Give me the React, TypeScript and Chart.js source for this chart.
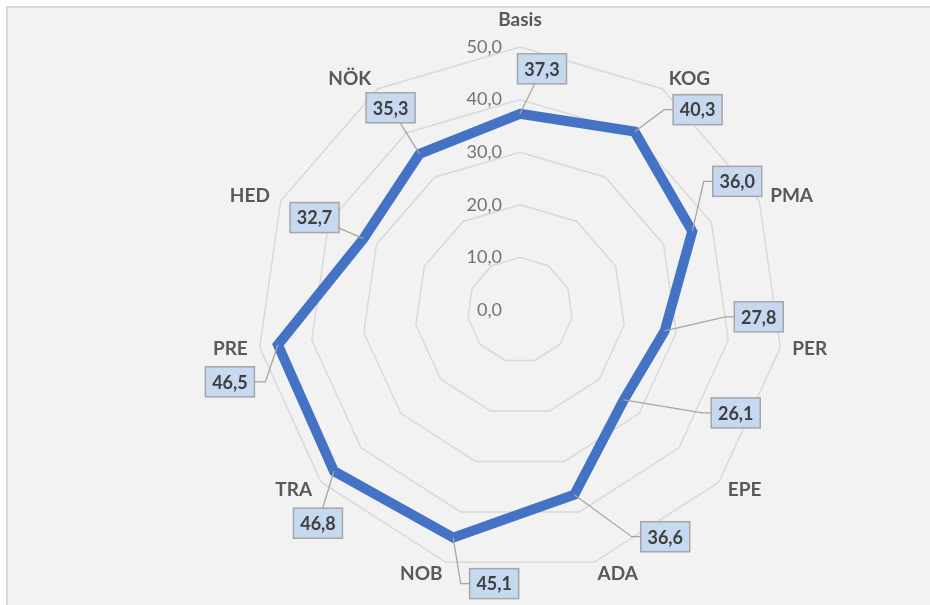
import React, { useEffect, useRef } from "react";
import { Chart, registerables } from "chart.js";

Chart.register(...registerables);

const categories = ["Basis", "KOG", "PMA", "PER", "EPE", "ADA", "NOB", "TRA", "PRE", "HED", "NÖK"];
const values = [37.3, 40.3, 36.0, 27.8, 26.1, 36.6, 45.1, 46.8, 46.5, 32.7, 35.3];
const tickValues = [0, 10, 20, 30, 40, 50];

// callout placement (box centre relative to its point) and leader style
const calloutOffsets = [
  [22, -45], [63, -22], [45, -50], [94, -14], [112, 13], [91, 42],
  [41, 46], [-16, 52], [-48, 37], [-49, -21], [-29, -46],
];
const leaderTypes = ["C", "L", "L", "L", "L", "L", "L", "C", "R", "C", "C"];

const fmt = (v: number) => v.toFixed(1).replace(".", ",");
const FONT = "Lato, 'Open Sans', sans-serif";

const radarExtras = {
  id: "radarExtras",
  beforeDatasetsDraw(chart: any) {
    const scale = chart.scales.r;
    const ctx = chart.ctx;
    ctx.save();
    // tick labels
    ctx.font = `18px ${FONT}`;
    ctx.fillStyle = "#737373";
    ctx.textAlign = "right";
    ctx.textBaseline = "middle";
    tickValues.forEach((v) => {
      const d = scale.getDistanceFromCenterForValue(v);
      ctx.fillText(fmt(v), scale.xCenter - 18, scale.yCenter - d);
    });
    // point labels
    ctx.font = `bold 19px ${FONT}`;
    ctx.fillStyle = "#595959";
    (chart.data.labels as string[]).forEach((lab, i) => {
      const extra = i === 0 ? 15 : 0;
      const p = scale.getPointPosition(i, scale.drawingArea + 12 + extra);
      const dx = p.x - scale.xCenter;
      ctx.textAlign = dx > 1 ? "left" : dx < -1 ? "right" : "center";
      ctx.fillText(lab, p.x, p.y);
    });
    ctx.restore();
  },
  afterDatasetsDraw(chart: any) {
    const ctx = chart.ctx;
    const meta = chart.getDatasetMeta(0);
    const w = 49;
    const h = 30;
    ctx.save();
    ctx.strokeStyle = "#a6a6a6";
    ctx.lineWidth = 1.3;
    meta.data.forEach((pt: any, i: number) => {
      const [ox, oy] = calloutOffsets[i];
      const cx = pt.x + ox;
      const cy = pt.y + oy;
      const l = cx - w / 2;
      ctx.beginPath();
      ctx.moveTo(pt.x, pt.y);
      if (leaderTypes[i] === "L") {
        ctx.lineTo(l - 9, cy);
        ctx.lineTo(l, cy);
      } else if (leaderTypes[i] === "R") {
        ctx.lineTo(l + w + 11, cy);
        ctx.lineTo(l + w, cy);
      } else {
        ctx.lineTo(cx, cy);
      }
      ctx.stroke();
    });
    meta.data.forEach((pt: any, i: number) => {
      const [ox, oy] = calloutOffsets[i];
      const cx = pt.x + ox;
      const cy = pt.y + oy;
      const l = cx - w / 2;
      const t = cy - h / 2;
      ctx.fillStyle = "#c6d9f1";
      ctx.fillRect(l, t, w, h);
      ctx.lineWidth = 1.5;
      ctx.strokeStyle = "#a6a6a6";
      ctx.strokeRect(l, t, w, h);
      ctx.fillStyle = "#404040";
      ctx.font = `bold 18px ${FONT}`;
      ctx.textAlign = "center";
      ctx.textBaseline = "middle";
      ctx.fillText(fmt(values[i]), cx, cy + 1);
    });
    ctx.restore();
  },
};

export default function App() {
  const ref = useRef<HTMLCanvasElement>(null);
  useEffect(() => {
    const chart = new Chart(ref.current as HTMLCanvasElement, {
      type: "radar",
      data: {
        labels: categories,
        datasets: [
          {
            data: values,
            borderColor: "#4472c4",
            borderWidth: 10,
            borderJoinStyle: "miter",
            backgroundColor: "transparent",
            fill: false,
            pointRadius: 0,
            pointHoverRadius: 0,
          },
        ],
      },
      options: {
        responsive: false,
        animation: false,
        events: [],
        layout: { padding: { left: 257, right: 147, top: 47, bottom: 32 } },
        plugins: { legend: { display: false }, tooltip: { enabled: false } },
        scales: {
          r: {
            min: 0,
            max: 50,
            ticks: { display: false, stepSize: 10 },
            grid: { color: "#d9d9d9", lineWidth: 1.5 },
            angleLines: { display: false },
            pointLabels: { display: false },
          },
        },
      },
      plugins: [radarExtras],
    } as any);
    return () => chart.destroy();
  }, []);
  return (
    <div style={{ position: "fixed", inset: 0, background: "#ffffff" }}>
      <div
        style={{
          position: "absolute",
          left: 6,
          top: 6,
          right: 0,
          bottom: 0,
          background: "#f2f2f2",
          borderLeft: "2px solid #d9d9d9",
          borderTop: "2px solid #d9d9d9",
        }}
      />
      <canvas
        ref={ref}
        width={930}
        height={605}
        style={{ position: "absolute", left: 0, top: 0, width: 930, height: 605 }}
      />
    </div>
  );
}
